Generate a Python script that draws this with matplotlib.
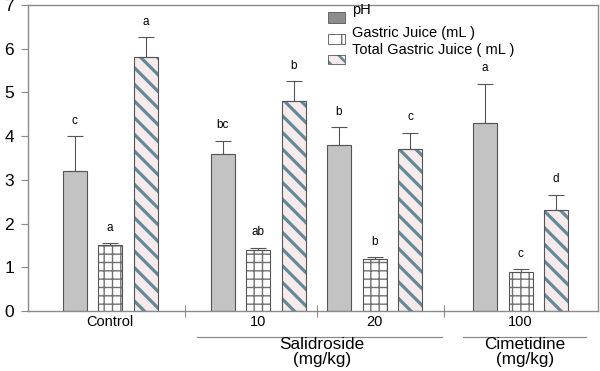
import numpy as np
import matplotlib
matplotlib.use('Agg')
import matplotlib.pyplot as plt
from matplotlib.patches import Rectangle
from matplotlib.lines import Line2D

plt.rcParams['font.family'] = ['Liberation Sans', 'DejaVu Sans']

groups = ['Control', '10', '20', '100']
ph = [3.2, 3.6, 3.8, 4.3]
ph_err = [0.8, 0.3, 0.4, 0.9]
gastric = [1.5, 1.4, 1.2, 0.9]
gastric_err = [0.06, 0.05, 0.04, 0.05]
total = [5.8, 4.8, 3.7, 2.3]
total_err = [0.47, 0.46, 0.38, 0.36]
ph_letters = ['c', 'bc', 'b', 'a']
gastric_letters = ['a', 'ab', 'b', 'c']
total_letters = ['a', 'b', 'c', 'd']
series_names = ['pH', 'Gastric Juice (mL )', 'Total Gastric Juice ( mL )']

# layout (x in pixel-like units of the original)
centers = np.array([110, 258, 374.5, 520.5])
separators = [185, 317, 444]
offset = 35.5
width = 24

spine_col = '#8a8a8a'
ph_face = '#c3c3c3'
edge = '#555555'
stripe_col = '#62899a'
stripe_bg = '#f7eaea'
grid_col = '#707070'

fig = plt.figure(figsize=(6, 3.71), dpi=100)
ax = fig.add_axes([28 / 600, 1 - 311 / 371, 570 / 600, 306 / 371])


def draw(xs, vals, errs, letters, face, hatch=None, hcol=None, hlw=1.0):
    plt.rcParams['hatch.linewidth'] = hlw
    if hatch:
        # hatch takes the edge colour, so draw it first, then the outline on top
        ax.bar(xs, vals, width, color=face, edgecolor=hcol, hatch=hatch,
               linewidth=0, zorder=2)
        ax.bar(xs, vals, width, facecolor='none', edgecolor=edge, linewidth=0.8, zorder=2.5)
    else:
        ax.bar(xs, vals, width, color=face, edgecolor=edge, linewidth=0.8, zorder=2)
    ax.errorbar(xs, vals, yerr=[np.zeros(len(vals)), errs], fmt='none',
                ecolor=edge, elinewidth=0.8, capsize=6, capthick=0.8, zorder=3)
    for x, v, e, t in zip(xs, vals, errs, letters):
        ax.annotate(t, (x, v + e), xytext=(0, 11), textcoords='offset points',
                    ha='center', va='center', fontsize=8.5)


draw(centers - offset, ph, ph_err, ph_letters, ph_face)
draw(centers, gastric, gastric_err, gastric_letters, 'white', '++', grid_col, 1.0)
draw(centers + offset, total, total_err, total_letters, stripe_bg, '\\\\', stripe_col, 2.3)

ax.set_xlim(28, 598)
ax.set_ylim(0, 7)
ax.set_yticks(range(8))
ax.tick_params(axis='y', length=5, width=0.8, color=spine_col, labelsize=12.5, pad=5)
ax.set_xticks(centers)
ax.set_xticklabels(groups)
ax.tick_params(axis='x', length=0, labelsize=10.5, pad=3)
ax.set_xticks(separators, minor=True)
ax.tick_params(axis='x', which='minor', length=8, direction='inout', width=0.8, color=spine_col)
for s in ax.spines.values():
    s.set_color(spine_col)
    s.set_linewidth(1.0)

# legend drawn by hand
lx = (328 - 28) / 570
lw = 17 / 570
leg = [(0.941, 0.036, '#8d8d8d', None, None, 0.985),
       (0.872, 0.032, 'white', '|', grid_col, 0.910),
       (0.806, 0.032, stripe_bg, '\\\\', stripe_col, 0.852)]
for (y0, h, fc, hat, hc, ty), name in zip(leg, series_names):
    if hat:
        plt.rcParams['hatch.linewidth'] = 1.8 if hat == '\\\\' else 1.0
        ax.add_patch(Rectangle((lx, y0), lw, h, transform=ax.transAxes, facecolor=fc,
                               edgecolor=hc, linewidth=0, hatch=hat, clip_on=False, zorder=4))
    ax.add_patch(Rectangle((lx, y0), lw, h, transform=ax.transAxes,
                           facecolor=fc if not hat else 'none',
                           edgecolor=edge, linewidth=0.6, clip_on=False, zorder=4.5))
    ax.text(lx + lw + 0.012, ty, name, transform=ax.transAxes, fontsize=10.5,
            va='center', ha='left')

# group titles under the axis
fig.add_artist(Line2D([197 / 600, 442 / 600], [1 - 337 / 371] * 2, color=spine_col, linewidth=0.9))
fig.add_artist(Line2D([463 / 600, 586 / 600], [1 - 337 / 371] * 2, color=spine_col, linewidth=0.9))
fig.text(322 / 600, 1 - 352 / 371, 'Salidroside\n(mg/kg)', ha='center', va='center',
         fontsize=12.3, linespacing=1.0)
fig.text(525 / 600, 1 - 352 / 371, 'Cimetidine\n(mg/kg)', ha='center', va='center',
         fontsize=12.3, linespacing=1.0)

fig.savefig('out.png', dpi=100)
